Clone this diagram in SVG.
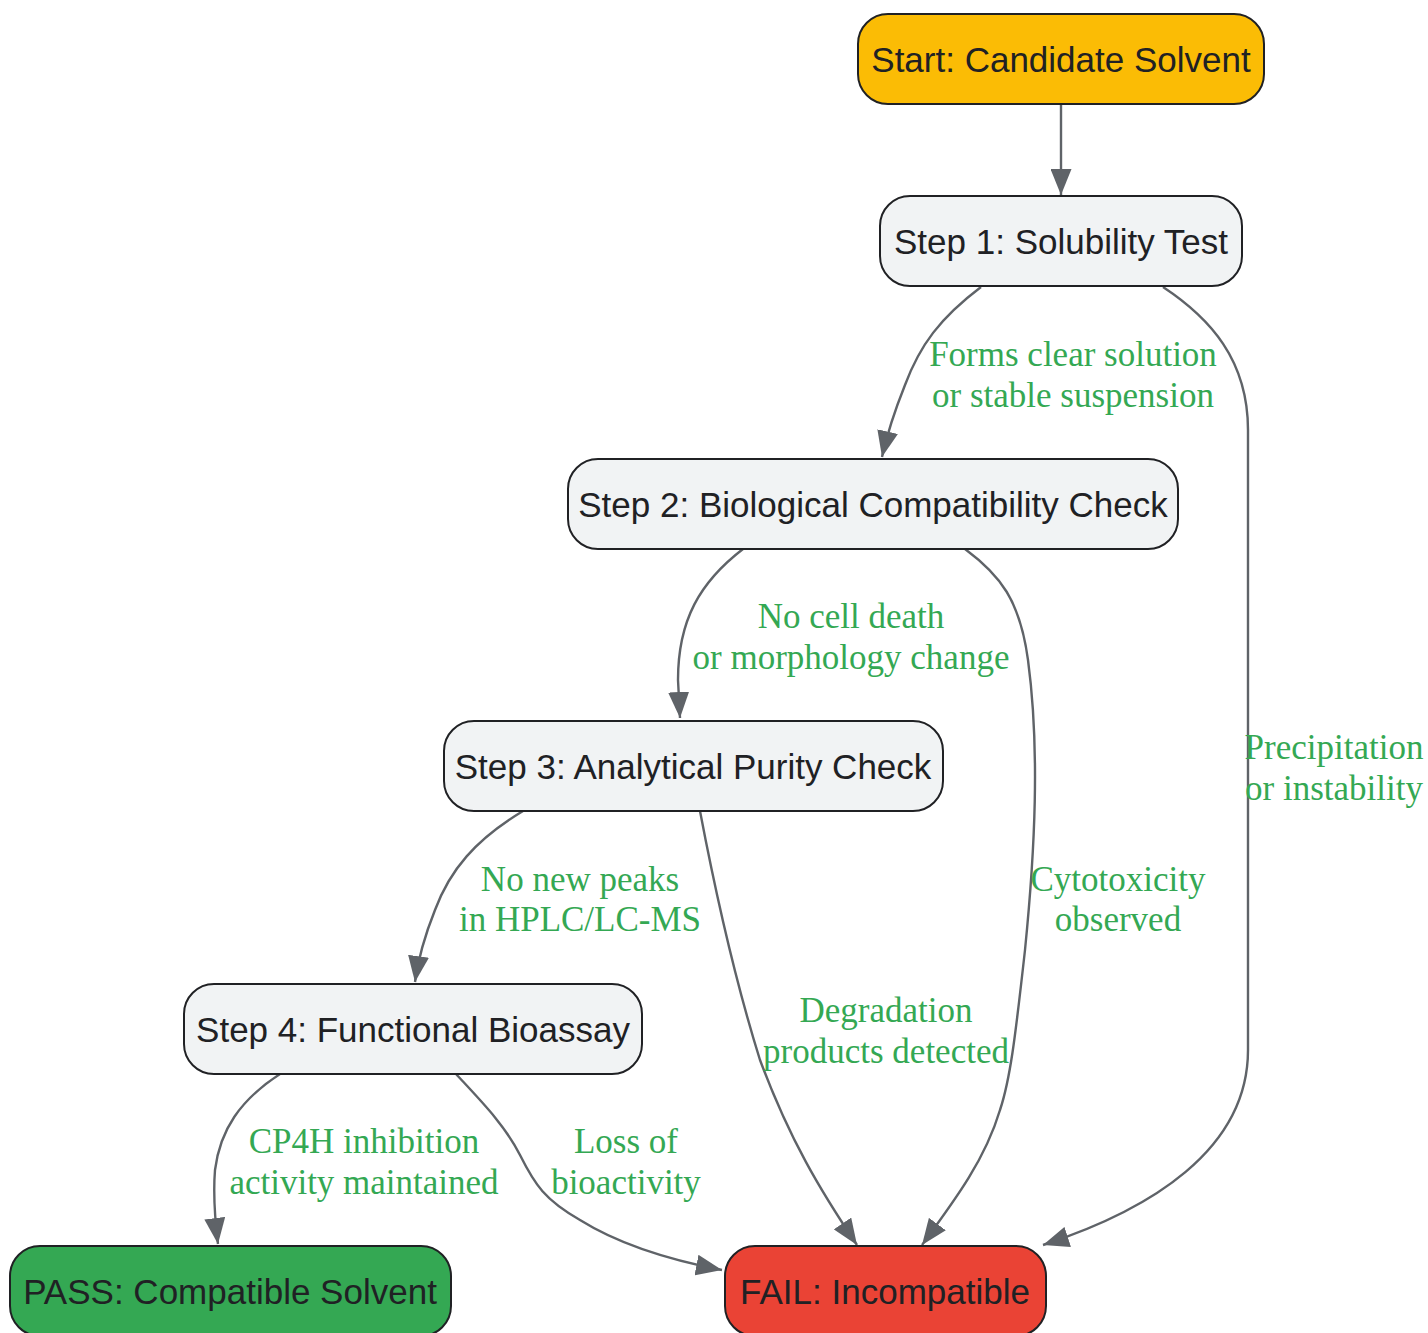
<svg xmlns="http://www.w3.org/2000/svg" width="1428" height="1333" viewBox="0 0 1428 1333">
<style>
.node rect{stroke:#202124;stroke-width:2}
.node text{font-family:"Liberation Sans",Arial,sans-serif;font-size:35px;fill:#202124;text-anchor:middle}
.step rect{fill:#F1F3F4}
.edges path{fill:none;stroke:#5F6368;stroke-width:2.4;marker-end:url(#arr)}
.lbl text{font-family:"Liberation Serif","Times New Roman",serif;font-size:35px;fill:#34A853;text-anchor:middle}
</style>
<defs>
<marker id="arr" viewBox="0 0 26 21" refX="26" refY="10.5" markerWidth="26" markerHeight="21" markerUnits="userSpaceOnUse" orient="auto">
<path d="M0,0 L26,10.5 L0,21 z" fill="#5F6368"/>
</marker>
</defs>
<rect width="1428" height="1333" fill="#ffffff"/>
<g class="edges">
<path d="M1061,104 L1061,195"/>
<path d="M981,287 C940,318 920,345 905,385 C895,410 888,430 882,457"/>
<path d="M1163,287 C1210,318 1248,360 1248,430 L1248,1050 C1248,1150 1150,1210 1043,1245"/>
<path d="M743,549 C700,582 678,620 678,680 L680,718"/>
<path d="M965,549 C1000,575 1020,600 1028,660 C1040,750 1035,850 1025,950 C1015,1040 1010,1080 1000,1110 C985,1160 955,1200 922,1245"/>
<path d="M523,811 C475,840 450,870 435,910 C425,935 418,960 415,982"/>
<path d="M700,811 C715,890 735,980 760,1060 C790,1140 820,1190 857,1245"/>
<path d="M280,1074 C240,1100 220,1130 215,1170 C213,1195 215,1220 218,1244"/>
<path d="M456,1074 C480,1100 505,1125 520,1155 C535,1185 545,1200 580,1220 C620,1245 670,1260 722,1270"/>
</g>
<g class="lbl">
<text x="1073" y="366">Forms clear solution</text>
<text x="1073" y="407">or stable suspension</text>
<text x="1334" y="759">Precipitation</text>
<text x="1334" y="800">or instability</text>
<text x="851" y="628">No cell death</text>
<text x="851" y="669">or morphology change</text>
<text x="1118" y="891">Cytotoxicity</text>
<text x="1118" y="931">observed</text>
<text x="580" y="891">No new peaks</text>
<text x="580" y="931">in HPLC/LC-MS</text>
<text x="886" y="1022">Degradation</text>
<text x="886" y="1063">products detected</text>
<text x="364" y="1153">CP4H inhibition</text>
<text x="364" y="1194">activity maintained</text>
<text x="626" y="1153">Loss of</text>
<text x="626" y="1194">bioactivity</text>
</g>
<g id="start" class="node"><rect x="858" y="14" width="406" height="90" rx="30" fill="#FBBC05"/><text x="1061" y="72">Start: Candidate Solvent</text></g>
<g id="step1" class="node step"><rect x="880" y="196" width="362" height="90" rx="30"/><text x="1061" y="254">Step 1: Solubility Test</text></g>
<g id="step2" class="node step"><rect x="568" y="459" width="610" height="90" rx="30"/><text x="873" y="517">Step 2: Biological Compatibility Check</text></g>
<g id="step3" class="node step"><rect x="444" y="721" width="499" height="90" rx="30"/><text x="693" y="779">Step 3: Analytical Purity Check</text></g>
<g id="step4" class="node step"><rect x="184" y="984" width="458" height="90" rx="30"/><text x="413" y="1042">Step 4: Functional Bioassay</text></g>
<g id="pass" class="node"><rect x="10" y="1246" width="441" height="90" rx="30" fill="#34A853"/><text x="230" y="1304">PASS: Compatible Solvent</text></g>
<g id="fail" class="node"><rect x="725" y="1246" width="321" height="90" rx="30" fill="#EA4335"/><text x="885" y="1304">FAIL: Incompatible</text></g>
</svg>
